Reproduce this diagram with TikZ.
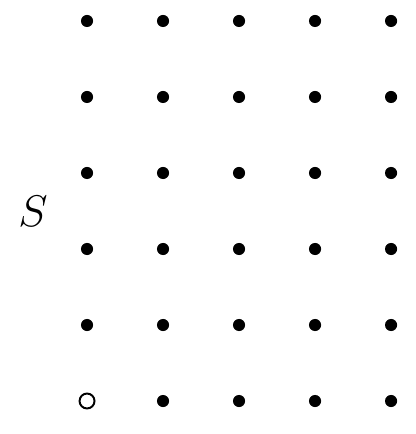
\documentclass[tikz,border=0pt]{standalone}
\usepackage{tikz}
\usetikzlibrary{positioning}

\begin{document}
\begin{tikzpicture}[x=1.5cm,y=1.5cm]
\tikzset{pt/.style={circle,fill,inner sep=0pt,minimum size=6.8pt},
  hole/.style={circle,draw,line width=1.1pt,fill=white,inner sep=0pt,minimum size=8.4pt}}
\useasboundingbox (-1.145,-0.434) rectangle (4.316,5.276);
\foreach \x in {0,...,4}
  \foreach \y in {0,...,5}
    {\ifnum\x=0 \ifnum\y=0 \else \node[pt] (p\x\y) at (\x,\y) {}; \fi
     \else \node[pt] (p\x\y) at (\x,\y) {}; \fi}
\node[hole] (p00) at (0,0) {};
\node (lab) at (-0.71,2.49) {\Huge $S$};
\end{tikzpicture}
\end{document}
